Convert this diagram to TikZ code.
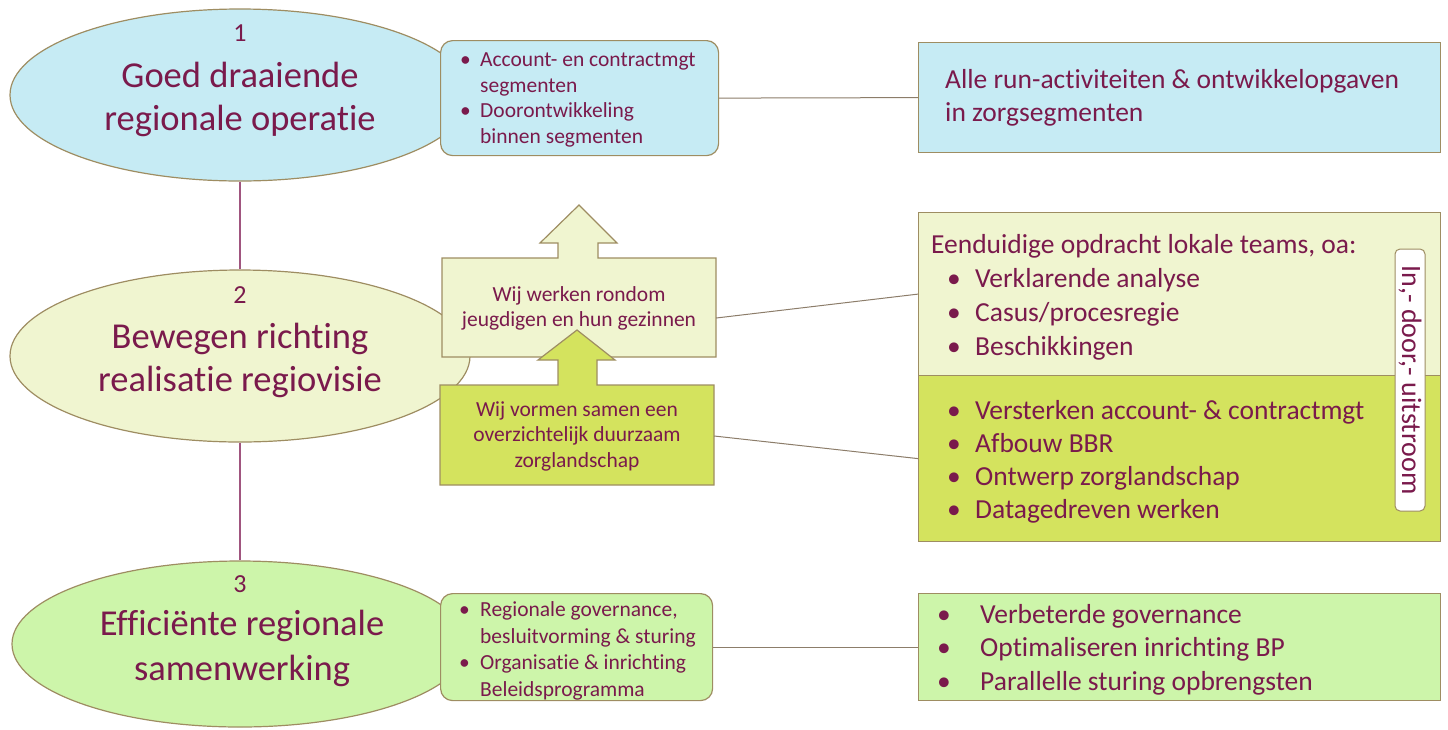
\documentclass[tikz,border=0pt]{standalone}
\usepackage{fontspec}
\setmainfont{Carlito}[Ligatures=NoCommon]
\usetikzlibrary{shapes.geometric}
\definecolor{txtc}{HTML}{7A1A4C}
\definecolor{bord}{HTML}{9E8D62}
\definecolor{lblue}{HTML}{C6EBF4}
\definecolor{pale}{HTML}{F0F5D0}
\definecolor{lime}{HTML}{D4E35E}
\definecolor{lgreen}{HTML}{CDF5AA}
\definecolor{linkc}{HTML}{8C7D6A}
\definecolor{vlink}{HTML}{A0557F}
\newcommand\bulw[1]{\makebox[#1][l]{•}}
\begin{document}
\begin{tikzpicture}[x=1pt,y=-1pt,
  ell/.style={ellipse, draw=bord, line width=1.2pt, inner sep=0},
  rbox/.style={draw=bord, rounded corners=12pt, line width=1.2pt, inner sep=0},
  sbox/.style={draw=bord, line width=1.2pt, inner sep=0},
  tx/.style={text=txtc, inner sep=0},
  link/.style={draw=linkc, line width=1pt},
  vl/.style={draw=vlink, line width=1.3pt}]
\useasboundingbox (0,0) rectangle (1448,729);

% ellipses
\node[ell, fill=lblue, minimum width=460, minimum height=172] (e1) at (240,95) {};
\node[ell, fill=pale, minimum width=460, minimum height=172] (e2) at (240,356) {};
\node[ell, fill=lgreen, minimum width=456, minimum height=166] (e3) at (240,644) {};
\draw[vl] (e1.south) -- (e2.north);
\draw[vl] (e2.south) -- (e3.north);

\node[tx, font=\fontsize{26}{30}\selectfont] (n1) at (240,33) {1};
\node[tx, align=center, font=\fontsize{36.5}{43}\selectfont] (t1) at (240,99) {Goed draaiende\\regionale operatie};
\node[tx, font=\fontsize{26}{30}\selectfont] (n2) at (240,295) {2};
\node[tx, align=center, font=\fontsize{36.5}{43}\selectfont] (t2) at (240,360) {Bewegen richting\\realisatie regiovisie};
\node[tx, font=\fontsize{26}{30}\selectfont] (n3) at (240,584) {3};
\node[tx, align=center, font=\fontsize{36.5}{45}\selectfont] (t3) at (242,648) {Efficiënte regionale\\samenwerking};

% box A
\node[rbox, fill=lblue, minimum width=278, minimum height=115, anchor=north west] (A) at (440,40) {};
\node[tx, anchor=base west, font=\fontsize{21.5}{25.7}\selectfont] (At) at (460,66.5)
  {\begin{tabular}[t]{@{}l@{}l@{}}\bulw{20pt} & Account- en contractmgt\\ & segmenten\\ \bulw{20pt} & Doorontwikkeling\\ & binnen segmenten\end{tabular}};

% box B
\node[sbox, fill=lblue, minimum width=522, minimum height=110, anchor=north west] (B) at (918,42) {};
\node[tx, anchor=base west, font=\fontsize{27.5}{33}\selectfont] (Bt) at (945,88)
  {\begin{tabular}[t]{@{}l@{}}Alle run-activiteiten \& ontwikkelopgaven\\in zorgsegmenten\end{tabular}};
\draw[link] (A.east) -- (B.west);

% arrow boxes
\draw[draw=bord, line width=1.2pt, fill=pale] (442,258) -- (558,258) -- (558,243) -- (540,243) -- (579,205) -- (617,243) -- (598,243) -- (598,258) -- (716,258) -- (716,357) -- (442,357) -- cycle;
\node[tx, minimum width=274, minimum height=99, align=center, font=\fontsize{21.5}{25}\selectfont] (W1) at (579,308) {Wij werken rondom\\jeugdigen en hun gezinnen};
\draw[draw=bord, line width=1.2pt, fill=lime] (440,385) -- (558,385) -- (558,360) -- (538,360) -- (577,330) -- (615,360) -- (597,360) -- (597,385) -- (714,385) -- (714,485) -- (440,485) -- cycle;
\node[tx, minimum width=274, minimum height=100, align=center, font=\fontsize{21.5}{25.5}\selectfont] (W2) at (577,436) {Wij vormen samen een\\overzichtelijk duurzaam\\zorglandschap};

% right middle boxes
\node[sbox, fill=pale, minimum width=522, minimum height=163, anchor=north west] (RU) at (918,212) {};
\node[sbox, fill=lime, minimum width=522, minimum height=166, anchor=north west] (RL) at (918,375) {};
\node[tx, anchor=base west, font=\fontsize{27.5}{34}\selectfont] (RUt) at (931,253)
  {\begin{tabular}[t]{@{}l@{}l@{}}\multicolumn{2}{@{}l@{}}{Eenduidige opdracht lokale teams, oa:}\\
   \hspace{16pt}\bulw{28pt} & Verklarende analyse\\ \hspace{16pt}\bulw{28pt} & Casus/procesregie\\ \hspace{16pt}\bulw{28pt} & Beschikkingen\end{tabular}};
\node[tx, anchor=base west, font=\fontsize{27.5}{33}\selectfont] (RLt) at (947,419)
  {\begin{tabular}[t]{@{}l@{}l@{}}\bulw{28pt} & Versterken account- \& contractmgt\\ \bulw{28pt} & Afbouw BBR\\ \bulw{28pt} & Ontwerp zorglandschap\\ \bulw{28pt} & Datagedreven werken\end{tabular}};
\node[draw=bord, fill=white, rounded corners=5pt, line width=1pt, rotate=-90, minimum width=262, minimum height=30, inner sep=0, text=txtc, font=\fontsize{28}{30}\selectfont] (io) at (1410,380) {In,- door,- uitstroom};
\draw[link] ([yshift=-10pt]W1.east) -- (RU.west);
\draw[link] (W2.east) -- (RL.west);

% bottom boxes
\node[rbox, fill=lgreen, minimum width=272, minimum height=107, anchor=north west] (C) at (440,593) {};
\node[tx, anchor=base west, font=\fontsize{21.5}{26.7}\selectfont] (Ct) at (459,616.5)
  {\begin{tabular}[t]{@{}l@{}l@{}}\bulw{21pt} & Regionale governance,\\ & besluitvorming \& sturing\\ \bulw{21pt} & Organisatie \& inrichting\\ & Beleidsprogramma\end{tabular}};
\node[sbox, fill=lgreen, minimum width=522, minimum height=107, anchor=north west] (D) at (918,593) {};
\node[tx, anchor=base west, font=\fontsize{27.5}{33.5}\selectfont] (Dt) at (937,623)
  {\begin{tabular}[t]{@{}l@{}l@{}}\bulw{43pt} & Verbeterde governance\\ \bulw{43pt} & Optimaliseren inrichting BP\\ \bulw{43pt} & Parallelle sturing opbrengsten\end{tabular}};
\draw[link] (C.east) -- (D.west);
\end{tikzpicture}
\end{document}
